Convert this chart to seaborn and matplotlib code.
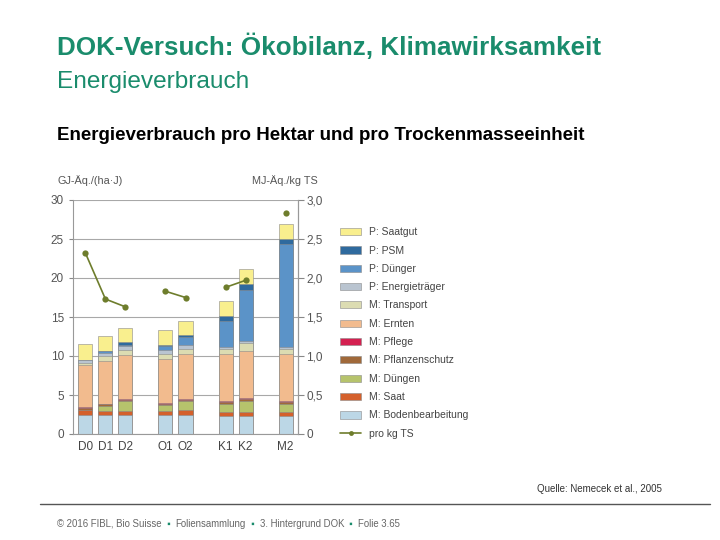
import numpy as np
import pandas as pd
import seaborn as sns
import matplotlib.pyplot as plt
from matplotlib.patches import Patch
from matplotlib.lines import Line2D

# variants (bars), with empty slots used as gaps between groups
variants = ["D0", "D1", "D2", "O1", "O2", "K1", "K2", "M2"]
slots = ["D0", "D1", "D2", " ", "O1", "O2", "  ", "K1", "K2", "   ", "M2"]
groups = ["D", "D", "D", "O", "O", "K", "K", "M"]

# stack components, bottom to top (GJ-Äq./(ha·J))
components = ["M: Bodenbearbeitung", "M: Saat", "M: Düngen", "M: Pflanzenschutz", "M: Pflege",
              "M: Ernten", "M: Transport", "P: Energieträger", "P: Dünger", "P: PSM", "P: Saatgut"]
bodenbearbeitung = [2.4, 2.4, 2.4, 2.5, 2.5, 2.3, 2.3, 2.3]
saat             = [0.7, 0.6, 0.6, 0.5, 0.6, 0.5, 0.5, 0.5]
duengen          = [0.0, 0.6, 1.2, 0.7, 1.1, 1.0, 1.4, 1.0]
pflanzenschutz   = [0.25, 0.25, 0.2, 0.2, 0.2, 0.3, 0.3, 0.3]
pflege           = [0.05, 0.05, 0.05, 0.05, 0.05, 0.1, 0.1, 0.1]
ernten           = [5.4, 5.5, 5.7, 5.7, 5.8, 6.0, 6.0, 6.0]
transport        = [0.3, 0.6, 0.6, 0.6, 0.6, 0.7, 1.1, 0.7]
energietraeger   = [0.4, 0.4, 0.5, 0.5, 0.5, 0.2, 0.2, 0.2]
duenger          = [0.0, 0.2, 0.1, 0.5, 1.1, 3.4, 6.6, 13.3]
psm              = [0.0, 0.0, 0.4, 0.1, 0.2, 0.6, 0.7, 0.6]
saatgut          = [2.0, 2.0, 1.85, 2.0, 1.9, 1.9, 1.9, 1.9]

# energy per kg dry matter (MJ-Äq./kg TS)
pro_kg_ts = [2.32, 1.73, 1.63, 1.83, 1.75, 1.88, 1.97, 2.83]

colors = {
    "M: Bodenbearbeitung": "#bcd7e6",
    "M: Saat": "#d4602c",
    "M: Düngen": "#b6c36c",
    "M: Pflanzenschutz": "#a0693a",
    "M: Pflege": "#d42050",
    "M: Ernten": "#f2bb8e",
    "M: Transport": "#dcdcb2",
    "P: Energieträger": "#b9c4d0",
    "P: Dünger": "#5b93c8",
    "P: PSM": "#2f6a9e",
    "P: Saatgut": "#f9ef8e",
}
line_color = "#6e7d2c"
teal = "#1a8c6c"

values = [bodenbearbeitung, saat, duengen, pflanzenschutz, pflege, ernten,
          transport, energietraeger, duenger, psm, saatgut]
cum = np.cumsum(np.array(values), axis=0)
rows = []
for ci, comp in enumerate(components):
    for vi, v in enumerate(variants):
        rows.append({"component": comp, "variant": v, "cum": cum[ci, vi]})
df = pd.DataFrame(rows)

sns.set_style("white")
plt.rcParams["font.family"] = ["Liberation Sans", "DejaVu Sans"]

fig = plt.figure(figsize=(7.2, 5.4), dpi=100)
ax = fig.add_axes([73 / 720, 1 - 434 / 540, 225 / 720, 234 / 540])

# stacked bars: draw cumulative totals from the top component down
for comp in reversed(components):
    sns.barplot(data=df[df.component == comp], x="variant", y="cum", order=slots,
                color=colors[comp], saturation=1, width=0.7, edgecolor="#8a8a8a",
                linewidth=0.4, ax=ax)

ax.set_ylim(0, 30)
ax.set_xlim(-0.62, 10.62)
ax.set_yticks(np.arange(0, 31, 5))
ax.yaxis.grid(True, color="#a8a8a8", linewidth=0.8)
ax.set_axisbelow(True)
ax.set_xlabel("")
ax.set_ylabel("")
ax.set_xticks([slots.index(v) for v in variants])
ax.set_xticklabels(variants)
ax.set_xticks(np.arange(-0.5, 11, 1), minor=True)
ax.tick_params(axis="x", which="major", length=0, labelsize=8.5, labelcolor="#444444", pad=5)
ax.tick_params(axis="x", which="minor", length=3, color="#888888", direction="out")
ax.tick_params(axis="y", length=3, color="#888888", labelsize=8.5, labelcolor="#555555", left=True)
ax.spines["top"].set_visible(False)
for side in ["left", "right", "bottom"]:
    ax.spines[side].set_color("#999999")
    ax.spines[side].set_linewidth(0.8)

ax2 = ax.twinx()
line_df = pd.DataFrame({"x": [slots.index(v) for v in variants], "y": pro_kg_ts, "group": groups})
sns.lineplot(data=line_df, x="x", y="y", units="group", estimator=None, color=line_color,
             marker="o", markersize=4.5, markeredgewidth=0, linewidth=1.2, ax=ax2)
ax2.set_ylim(0, 3)
ax2.set_yticks(np.arange(0, 3.01, 0.5))
ax2.set_yticklabels(["0" if t == 0 else f"{t:.1f}".replace(".", ",") for t in np.arange(0, 3.01, 0.5)])
ax2.set_xlabel("")
ax2.set_ylabel("")
ax2.tick_params(axis="y", length=4, color="#888888", labelsize=8.5, labelcolor="#555555", right=True, pad=2)
for side in ["top", "left", "bottom"]:
    ax2.spines[side].set_visible(False)
ax2.spines["right"].set_color("#999999")
ax2.spines["right"].set_linewidth(0.8)

fig.text(57 / 720, 1 - 181 / 540, "GJ-Äq./(ha·J)", fontsize=7.8, color="#555555", va="center")
fig.text(318 / 720, 1 - 181 / 540, "MJ-Äq./kg TS", fontsize=7.8, color="#555555", va="center", ha="right")

# legend
handles = [Patch(facecolor=colors[c], edgecolor="#8a8a8a", linewidth=0.4) for c in reversed(components)]
handles.append(Line2D([], [], color=line_color, marker="o", markersize=3.5, markeredgewidth=0, linewidth=1.2))
labels = list(reversed(components)) + ["pro kg TS"]
fig.legend(handles, labels, loc="upper left", bbox_to_anchor=(336 / 720, 1 - 223 / 540),
           frameon=False, fontsize=7.5, labelcolor="#444444", handlelength=2.0, handleheight=0.7,
           labelspacing=0.8, handletextpad=0.8, borderaxespad=0)

# slide texts
fig.text(57 / 720, 1 - 47 / 540, "DOK-Versuch: Ökobilanz, Klimawirksamkeit", fontsize=18.7,
         fontweight="bold", color=teal, va="center")
fig.text(57 / 720, 1 - 82 / 540, "Energieverbrauch", fontsize=17.6, color=teal, va="center")
fig.text(57 / 720, 1 - 135 / 540, "Energieverbrauch pro Hektar und pro Trockenmasseeinheit",
         fontsize=13.5, fontweight="bold", color="black", va="center")
fig.text(662 / 720, 1 - 489 / 540, "Quelle: Nemecek et al., 2005", fontsize=7,
         color="#333333", va="center", ha="right")
fig.add_artist(Line2D([40 / 720, 710 / 720], [1 - 504 / 540, 1 - 504 / 540],
                      color="#555555", linewidth=1))

# footer, pieces chained one after another
parts = ["© 2016 FIBL, Bio Suisse", "  ▪  ", "Foliensammlung", "  ▪  ", "3. Hintergrund DOK", "  ▪  ", "Folie 3.65"]
prev = fig.text(57 / 720, 1 - 524 / 540, parts[0], fontsize=6.9, color="#666666", va="center")
for p in parts[1:]:
    col = teal if "▪" in p else "#666666"
    prev = ax.annotate(p, xy=(1, 0.5), xycoords=prev, va="center", ha="left",
                       fontsize=6.9, color=col, annotation_clip=False)

fig.savefig("out.png", dpi=100)
